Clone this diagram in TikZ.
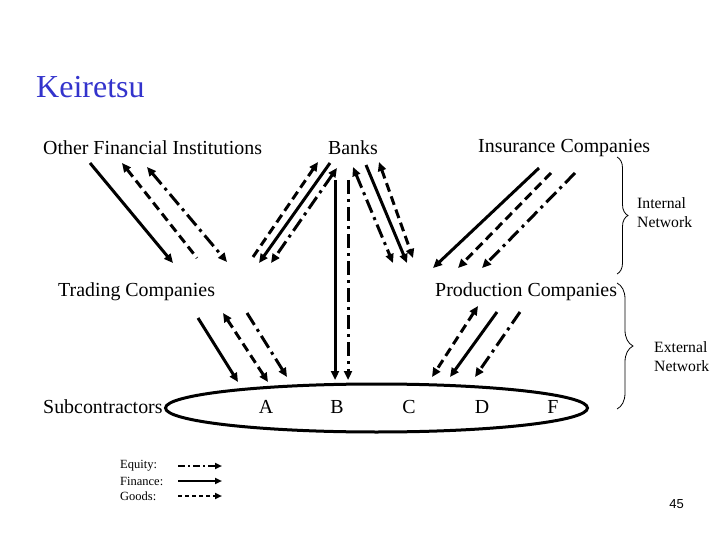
\documentclass[tikz,border=0pt]{standalone}
\usepackage{fontspec}
\setmainfont{Liberation Serif}
\newfontfamily\numfont{Liberation Sans}
\usetikzlibrary{arrows.meta,decorations.pathreplacing,shapes.geometric}
\definecolor{kblue}{RGB}{51,51,204}
\tikzset{
  lbl/.style={inner sep=0pt, font=\fontsize{19.9}{22}\selectfont},
  flow/.style={line width=3pt},
  fin/.style={flow},
  gds/.style={flow, dash pattern=on 9pt off 5pt},
  eqt/.style={flow, dash pattern=on 14pt off 5pt on 3pt off 5pt},
  >={Triangle[length=9pt,width=8pt]},
  leg/.style={line width=2pt, -{Triangle[length=7pt,width=6pt]}},
  brc/.style={decorate, decoration={brace, amplitude=#1}, line width=0.8pt},
}
\begin{document}
\begin{tikzpicture}[x=1pt,y=-1pt]
\useasboundingbox (0,0) rectangle (720,540);
% titles and labels
\node[anchor=west, inner sep=0pt, text=kblue, font=\fontsize{32}{36}\selectfont] (title) at (36,87) {Keiretsu};
\node[lbl, anchor=west] (ofi) at (43,148) {Other Financial Institutions};
\node[lbl] (banks) at (353,148) {Banks};
\node[lbl, anchor=west] (ins) at (478,148) {Insurance Companies};
\node[lbl, anchor=west] (trd) at (58,292) {Trading Companies};
\node[lbl, anchor=west] (prd) at (435,292) {Production Companies};
\node[lbl, anchor=west] (subc) at (43,407) {Subcontractors};
\node[inner sep=0pt, anchor=west, align=left, font=\fontsize{15.7}{19}\selectfont] (intn) at (637,212.5) {Internal\\Network};
\node[inner sep=0pt, anchor=west, align=left, font=\fontsize{15.7}{19}\selectfont] (extn) at (654,356.5) {External\\Network};
% ellipse
\node[draw, ellipse, line width=3pt, minimum width=422pt, minimum height=48pt, inner sep=0pt] (ell) at (376.5,408) {};
\node[lbl] (nA) at (266,407) {A};
\node[lbl] (nB) at (337,407) {B};
\node[lbl] (nC) at (409,407) {C};
\node[lbl] (nD) at (482,407) {D};
\node[lbl] (nF) at (553,407) {F};
% braces
\coordinate (b1t) at (617,157);
\coordinate (b1b) at (617,274);
\coordinate (b2t) at (617,283);
\coordinate (b2b) at (617,409);
\draw[brc=11pt] (b1t) -- (b1b);
\draw[brc=16pt] (b2t) -- (b2b);
% group 1: OFI <-> Trading
\coordinate (g1a) at (90,163);  \coordinate (g1b) at (173,263);
\coordinate (g1c) at (122,163); \coordinate (g1d) at (197,258);
\coordinate (g1e) at (147,167); \coordinate (g1f) at (227,262);
\draw[fin,->] (g1a) -- (g1b);
\draw[gds,<-] (g1c) -- (g1d);
\draw[eqt,<->] (g1e) -- (g1f);
% group 2: Banks <-> Trading
\coordinate (g2a) at (318,162); \coordinate (g2b) at (253,257);
\coordinate (g2c) at (330,163); \coordinate (g2d) at (259,263);
\coordinate (g2e) at (337,168); \coordinate (g2f) at (271,263);
\draw[gds,->] (g2b) -- (g2a);
\draw[fin,->] (g2c) -- (g2d);
\draw[eqt,<->] (g2e) -- (g2f);
% group 3: Banks -> B and Production
\coordinate (g3a) at (335,180); \coordinate (g3b) at (335,380);
\coordinate (g3c) at (348,180); \coordinate (g3d) at (348,380);
\coordinate (g3e) at (353,167); \coordinate (g3f) at (393,263);
\coordinate (g3g) at (366,165); \coordinate (g3h) at (407,263);
\coordinate (g3i) at (379,162); \coordinate (g3j) at (413,258);
\draw[fin,->] (g3a) -- (g3b);
\draw[eqt,->] (g3c) -- (g3d);
\draw[eqt,<->] (g3e) -- (g3f);
\draw[fin,->] (g3g) -- (g3h);
\draw[gds,<->] (g3i) -- (g3j);
% group 4: Insurance -> Production
\coordinate (g4a) at (539,168); \coordinate (g4b) at (433,268);
\coordinate (g4c) at (551,173); \coordinate (g4d) at (458,268);
\coordinate (g4e) at (575,173); \coordinate (g4f) at (482,268);
\draw[fin,->] (g4a) -- (g4b);
\draw[gds,->] (g4c) -- (g4d);
\draw[eqt,->] (g4e) -- (g4f);
% group 5: Trading -> A
\coordinate (g5a) at (198,318); \coordinate (g5b) at (238,382);
\coordinate (g5c) at (223,313); \coordinate (g5d) at (268,382);
\coordinate (g5e) at (247,313); \coordinate (g5f) at (287,377);
\draw[fin,->] (g5a) -- (g5b);
\draw[gds,<->] (g5c) -- (g5d);
\draw[eqt,->] (g5e) -- (g5f);
% group 6: Production -> C/D
\coordinate (g6a) at (478,306); \coordinate (g6b) at (432,377);
\coordinate (g6c) at (497,312); \coordinate (g6d) at (450,377);
\coordinate (g6e) at (520,312); \coordinate (g6f) at (475,377);
\draw[gds,<->] (g6a) -- (g6b);
\draw[fin,->] (g6c) -- (g6d);
\draw[eqt,->] (g6e) -- (g6f);
% legend
\node[inner sep=0pt, anchor=west, font=\fontsize{12.5}{15}\selectfont] (leq) at (120,466) {Equity:};
\node[inner sep=0pt, anchor=west, font=\fontsize{12.5}{15}\selectfont] (lfi) at (120,481) {Finance:};
\node[inner sep=0pt, anchor=west, font=\fontsize{12.5}{15}\selectfont] (lgo) at (120,496) {Goods:};
\coordinate (l1a) at (178,466); \coordinate (l1b) at (222,466);
\coordinate (l2a) at (178,481); \coordinate (l2b) at (222,481);
\coordinate (l3a) at (178,496); \coordinate (l3b) at (222,496);
\draw[leg, dash pattern=on 7pt off 3pt on 2pt off 3pt] (l1a) -- (l1b);
\draw[leg] (l2a) -- (l2b);
\draw[leg, dash pattern=on 4pt off 3pt] (l3a) -- (l3b);
% page number
\node[inner sep=0pt, font=\numfont\fontsize{13}{15}\selectfont] (pg) at (676.5,504) {45};
\end{tikzpicture}
\end{document}
